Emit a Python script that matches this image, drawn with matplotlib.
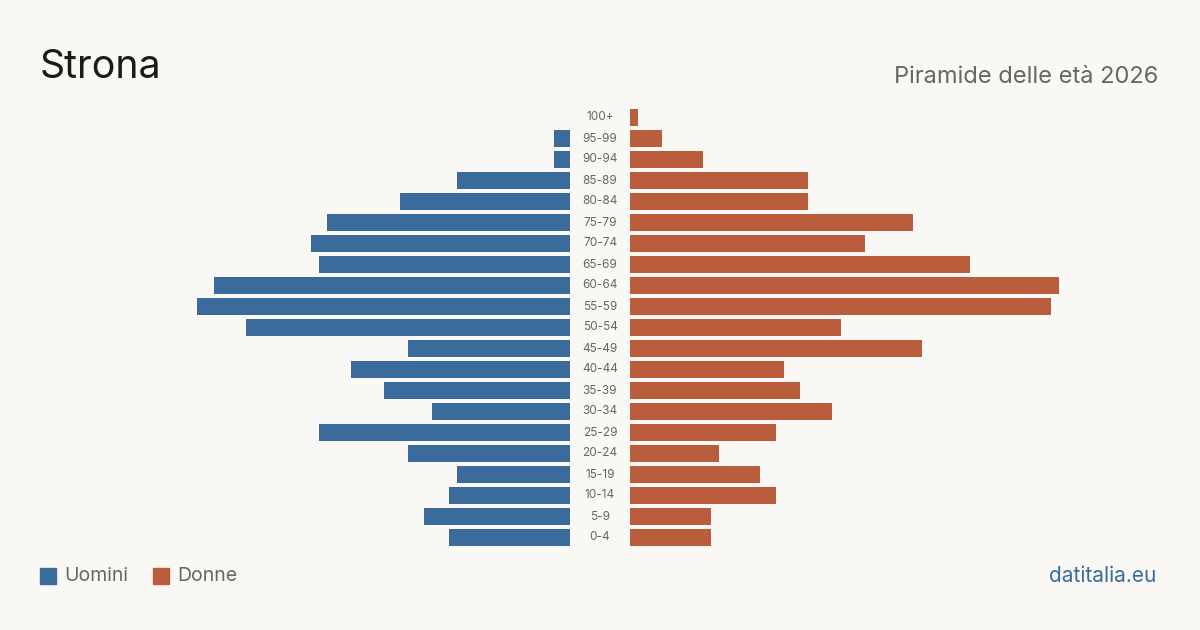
import matplotlib.pyplot as plt

plt.rcParams['font.family'] = ['Inter', 'DejaVu Sans']

# age classes from oldest (top) to youngest (bottom)
ages = ["100+", "95-99", "90-94", "85-89", "80-84", "75-79", "70-74", "65-69",
        "60-64", "55-59", "50-54", "45-49", "40-44", "35-39", "30-34", "25-29",
        "20-24", "15-19", "10-14", "5-9", "0-4"]
uomini = [0, 2, 2, 14, 21, 30, 32, 31, 44, 46, 40, 20, 27, 23, 17, 31, 20, 14, 15, 18, 15]
donne = [1, 4, 9, 22, 22, 35, 29, 42, 53, 52, 26, 36, 19, 21, 25, 18, 11, 16, 18, 10, 10]

BG = "#f9f8f4"
BLUE = "#3b6b9d"
ORANGE = "#b95d3c"
GREY = "#666666"

W, H = 1200, 630
fig = plt.figure(figsize=(12, 6.3), dpi=100, facecolor=BG)

xmax = 53.1
bottom = (H - 548) / H
height = 441 / H
ax_l = fig.add_axes([140 / W, bottom, 430 / W, height])
ax_r = fig.add_axes([630 / W, bottom, 430 / W, height])

ypos = list(range(len(ages)))[::-1]

ax_l.barh(ypos, uomini, height=0.8, color=BLUE)
ax_r.barh(ypos, donne, height=0.8, color=ORANGE)
ax_l.set_xlim(xmax, 0)
ax_r.set_xlim(0, xmax)

for ax in (ax_l, ax_r):
    ax.set_ylim(-0.5, len(ages) - 0.5)
    ax.axis("off")

# age labels in the gap between the two halves
for y, lab in zip(ypos, ages):
    ax_r.annotate(lab, xy=(0, y), xycoords=("axes fraction", "data"),
                  xytext=(-30, 0), textcoords="offset pixels",
                  ha="center", va="center", fontsize=8.5, color=GREY)

fig.text(40 / W, 1 - 67 / H, "Strona", fontsize=28.3, color="#1a1a1a",
         ha="left", va="center")
fig.text(1158 / W, 1 - 77 / H, "Piramide delle età 2026", fontsize=17,
         color=GREY, ha="right", va="center")

# legend
fig.patches.append(plt.Rectangle((40 / W, 1 - 584 / H), 16 / W, 16 / H,
                                 transform=fig.transFigure, color=BLUE))
fig.text(64 / W, 1 - 576 / H, "Uomini", fontsize=14, color=GREY,
         ha="left", va="center")
fig.patches.append(plt.Rectangle((153 / W, 1 - 584 / H), 16 / W, 16 / H,
                                 transform=fig.transFigure, color=ORANGE))
fig.text(177 / W, 1 - 576 / H, "Donne", fontsize=14, color=GREY,
         ha="left", va="center")

fig.text(1156 / W, 1 - 576 / H, "datitalia.eu", fontsize=15, color=BLUE,
         ha="right", va="center")

fig.savefig("out.png", dpi=100, facecolor=BG)
